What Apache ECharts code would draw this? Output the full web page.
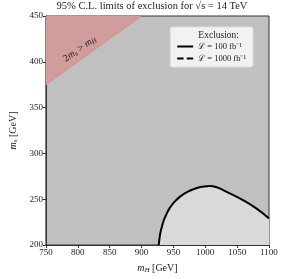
<!DOCTYPE html>
<html><head><meta charset="utf-8">
<script src="https://cdn.jsdelivr.net/npm/echarts@6/dist/echarts.min.js"></script>
<style>html,body{margin:0;padding:0;background:#fff}#c{width:284px;height:279px}</style>
</head><body><div id="c"></div>
<script>
// Data
const xTicks = [750, 800, 850, 900, 950, 1000, 1050, 1100];
const yTicks = [200, 250, 300, 350, 400, 450];
// Kinematic boundary 2 m_s = m_H
const boundaryMH = [750, 900];
const boundaryMs = [375, 450];
// Exclusion contour, L = 100 fb^-1
const curveMH = [927, 928, 929.5, 932, 935, 939, 944, 951, 960, 972, 986, 998, 1007, 1018, 1032, 1055, 1080, 1100];
const curveMs = [200, 206, 213, 220, 227, 233.5, 240, 246.5, 252.5, 258, 262, 263.8, 264.3, 263, 258.5, 250.5, 240, 229];
// Exclusion contour, L = 1000 fb^-1 (outside the visible range)
const curve1000MH = [];
const curve1000Ms = [];

const FONT = 'Liberation Serif';
const chart = echarts.init(document.getElementById('c'), null, {renderer: 'canvas'});
const zip = (a, b) => a.map((v, i) => [v, b[i]]);

chart.setOption({
  animation: false,
  textStyle: {fontFamily: FONT, color: '#222'},
  title: {
    text: '95% C.L. limits of exclusion for √s = 14 TeV',
    left: 152, top: 1, textAlign: 'center', padding: 0,
    textStyle: {fontFamily: FONT, fontSize: 10.5, fontWeight: 'normal', color: '#222'}
  },
  grid: {left: 36, right: 15, top: 16, bottom: 32, show: true,
         backgroundColor: '#c0c0c0', borderColor: '#333', borderWidth: 1},
  xAxis: {
    type: 'value', min: 750, max: 1100, interval: 50,
    name: '{i|m}{s|H} [GeV]', nameLocation: 'middle', nameGap: 18,
    nameTextStyle: {fontFamily: FONT, fontSize: 10, color: '#222',
      rich: {i: {fontStyle: 'italic', fontSize: 10, fontFamily: FONT},
             s: {fontStyle: 'italic', fontSize: 7, fontFamily: FONT, padding: [4, 0, 0, 0]}}},
    axisLine: {lineStyle: {color: '#333', width: 1}},
    axisTick: {show: true, length: 3, lineStyle: {color: '#333'}},
    axisLabel: {fontFamily: FONT, fontSize: 9, color: '#222', margin: 3, formatter: v => String(v)},
    splitLine: {show: false}
  },
  yAxis: {
    type: 'value', min: 200, max: 450, interval: 50,
    name: '{i|m}{s|s} [GeV]', nameLocation: 'middle', nameGap: 24, nameRotate: 90,
    nameTextStyle: {fontFamily: FONT, fontSize: 10, color: '#222',
      rich: {i: {fontStyle: 'italic', fontSize: 10, fontFamily: FONT},
             s: {fontStyle: 'italic', fontSize: 7, fontFamily: FONT, padding: [4, 0, 0, 0]}}},
    axisLine: {lineStyle: {color: '#333', width: 1}},
    axisTick: {show: true, length: 3, lineStyle: {color: '#333'}},
    axisLabel: {fontFamily: FONT, fontSize: 9, color: '#222', margin: 3, formatter: v => String(v)},
    splitLine: {show: false}
  },
  legend: {
    orient: 'vertical', right: 31, top: 27, z: 5,
    padding: [15, 7, 4, 7], itemGap: 3, itemWidth: 16, itemHeight: 8,
    backgroundColor: '#f2f2f2', borderColor: '#dcdcdc', borderWidth: 1, borderRadius: 2,
    textStyle: {fontFamily: FONT, fontSize: 8.5, color: '#222'},
    data: [
      {name: 'ℒ = 100 fb⁻¹', icon: 'path://M0,0 L16,0 L16,2 L0,2 Z'},
      {name: 'ℒ = 1000 fb⁻¹', icon: 'path://M0,0 L6,0 L6,2 L0,2 Z M9,0 L15,0 L15,2 L9,2 Z'}
    ],
    itemStyle: {color: '#000'}
  },
  graphic: [{
    type: 'text', right: 45, top: 30, z: 100,
    style: {text: 'Exclusion:', font: '9.5px "Liberation Serif"', fill: '#222'}
  }],
  series: [
    {
      type: 'line', name: 'boundary', data: zip(boundaryMH, boundaryMs),
      symbol: 'none', silent: true,
      lineStyle: {color: '#d98c8c', width: 1},
      areaStyle: {origin: 'end', color: '#d09c9c', opacity: 1},
      markPoint: {
        symbol: 'circle', symbolSize: 0,
        data: [{coord: [803, 414]}],
        label: {show: true, formatter: '2{i|m}{s|s} > {i|m}{s|H}', rotate: 35,
          fontFamily: FONT, fontSize: 10, color: '#222',
          rich: {i: {fontStyle: 'italic', fontSize: 10, fontFamily: FONT},
                 s: {fontStyle: 'italic', fontSize: 7, fontFamily: FONT, padding: [4, 0, 0, 0]}}}
      }
    },
    {
      type: 'line', name: 'ℒ = 100 fb⁻¹', data: zip(curveMH, curveMs),
      symbol: 'none', smooth: 0.5, silent: true,
      lineStyle: {color: '#000', width: 2},
      itemStyle: {color: '#000'},
      areaStyle: {origin: 'start', color: '#d9d9d9', opacity: 1}
    },
    {
      type: 'line', name: 'ℒ = 1000 fb⁻¹', data: zip(curve1000MH, curve1000Ms),
      symbol: 'none', silent: true,
      lineStyle: {color: '#000', width: 2, type: 'dashed'},
      itemStyle: {color: '#000'}
    }
  ]
});
</script></body></html>
